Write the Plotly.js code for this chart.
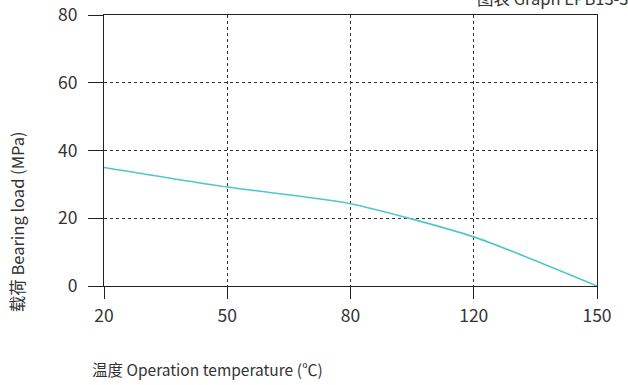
<!DOCTYPE html>
<html><head><meta charset="utf-8">
<script src="https://cdn.plot.ly/plotly-3.0.1.min.js"></script>
<style>html,body{margin:0;padding:0;background:#fff}#chart{width:628px;height:385px}</style>
</head><body><div id="chart"></div>
<script>
const temps = [20, 50, 80, 120, 150];
const loads = [35, 29.2, 24.3, 14.5, 0];
const yTicks = [0, 20, 40, 60, 80];
const chartTitle = '图表 Graph EPB13-3';
const xTitle = '温度 Operation temperature (℃)';
const yTitle = '载荷 Bearing load (MPa)';

const pos = temps.map((t, i) => i);
const font = "'Noto Sans CJK SC', 'Noto Sans', sans-serif";

const trace = {
  x: pos, y: loads, type: 'scatter', mode: 'lines',
  line: {color: '#4fc6cf', width: 1.6, shape: 'spline', smoothing: 0.6},
  hoverinfo: 'skip'
};

const layout = {
  width: 628, height: 385,
  margin: {l: 104, r: 31, t: 15, b: 99},
  paper_bgcolor: '#fff', plot_bgcolor: '#fff',
  showlegend: false,
  font: {family: font, color: '#333', size: 16},
  xaxis: {
    range: [0, temps.length - 1], tickvals: pos, ticktext: temps.map(String),
    showline: true, mirror: true, linecolor: '#222', linewidth: 1,
    ticks: 'outside', ticklen: 12, tickcolor: '#222', tickwidth: 1,
    ticklabelstandoff: 2,
    showgrid: true, gridcolor: '#333', griddash: 'dot', gridwidth: 1,
    zeroline: false, tickfont: {size: 17.5, color: '#333'}, fixedrange: true
  },
  yaxis: {
    range: [0, 80], tickvals: yTicks, ticktext: yTicks.map(String),
    showline: true, mirror: true, linecolor: '#222', linewidth: 1,
    ticks: 'outside', ticklen: 15, tickcolor: '#222', tickwidth: 1,
    ticklabelstandoff: 7,
    showgrid: true, gridcolor: '#333', griddash: 'dot', gridwidth: 1,
    zeroline: false, tickfont: {size: 17.5, color: '#333'}, fixedrange: true
  },
  annotations: [
    {text: chartTitle, xref: 'paper', yref: 'paper', x: 1.067, y: 1.011,
     xanchor: 'right', yanchor: 'bottom', showarrow: false, font: {size: 16.5, color: '#333'}},
    {text: xTitle, xref: 'paper', yref: 'paper', x: -0.029, y: -0.26,
     xanchor: 'left', yanchor: 'top', showarrow: false, font: {size: 15.5, color: '#333'}},
    {text: yTitle, xref: 'paper', yref: 'paper', x: -0.176, y: 0.236,
     xanchor: 'center', yanchor: 'middle', textangle: -90, showarrow: false, font: {size: 16.5, color: '#333'}}
  ]
};

Plotly.newPlot('chart', [trace], layout, {staticPlot: true, displayModeBar: false});
</script></body></html>
